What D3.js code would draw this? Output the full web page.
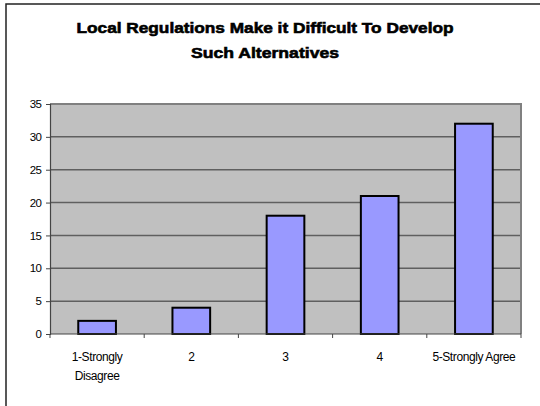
<!DOCTYPE html>
<html>
<head>
<meta charset="utf-8">
<script src="https://cdn.jsdelivr.net/npm/d3@7/dist/d3.min.js"></script>
<style>
  html, body { margin: 0; padding: 0; background: #fff; }
  svg { display: block; font-family: "Liberation Sans", Arial, sans-serif; }
</style>
</head>
<body>
<svg id="chart" width="540" height="406"></svg>
<script>
// Survey responses
const categories = ["1-Strongly Disagree", "2", "3", "4", "5-Strongly Agree"];
const categoryLines = [["1-Strongly", "Disagree"], ["2"], ["3"], ["4"], ["5-Strongly Agree"]];
const values = [2, 4, 18, 21, 32];
const yTicks = [0, 5, 10, 15, 20, 25, 30, 35];
const titleLines = ["Local Regulations Make it Difficult To Develop", "Such Alternatives"];
const titleWidths = [377, 148];

const svg = d3.select("#chart");
const W = 540, H = 406;
const plot = { left: 50, top: 104, right: 521, bottom: 334 };

// outer chart frame (extends past the visible edge on the right and bottom)
svg.append("rect")
  .attr("x", 6).attr("y", 4)
  .attr("width", W + 20).attr("height", H + 20)
  .attr("fill", "#fff")
  .attr("stroke", "#222").attr("stroke-width", 1.5);

// title, heavy and tightly set
svg.append("g").selectAll("text").data(titleLines).join("text")
  .attr("x", 265)
  .attr("y", (d, i) => 33 + i * 25)
  .attr("text-anchor", "middle")
  .attr("font-size", 15)
  .attr("font-weight", "900")
  .attr("textLength", (d, i) => titleWidths[i])
  .attr("lengthAdjust", "spacingAndGlyphs")
  .attr("fill", "#000")
  .attr("stroke", "#000").attr("stroke-width", 0.6)
  .text(d => d);

const x = d3.scaleBand().domain(categories).range([plot.left, plot.right]).paddingInner(0.6).paddingOuter(0.3);
const xb = d3.scaleBand().domain(categories).range([plot.left, plot.right]);
const y = d3.scaleLinear().domain([0, 35]).range([plot.bottom, plot.top]);

// plot background
svg.append("rect")
  .attr("x", plot.left).attr("y", plot.top)
  .attr("width", plot.right - plot.left).attr("height", plot.bottom - plot.top)
  .attr("fill", "#c0c0c0");

// gridlines
svg.append("g").selectAll("line").data(yTicks.filter(t => t > 0 && t < 35)).join("line")
  .attr("x1", plot.left).attr("x2", plot.right)
  .attr("y1", d => y(d)).attr("y2", d => y(d))
  .attr("stroke", "#5f5f5f").attr("stroke-width", 1.5);

// plot border (top and right)
svg.append("path")
  .attr("d", `M${plot.left},${plot.top}H${plot.right}V${plot.bottom}`)
  .attr("fill", "none").attr("stroke", "#808080").attr("stroke-width", 2);

// bars
svg.append("g").selectAll("rect").data(values).join("rect")
  .attr("x", (d, i) => x(categories[i]))
  .attr("y", d => y(d))
  .attr("width", x.bandwidth())
  .attr("height", d => y(0) - y(d))
  .attr("fill", "#9999ff")
  .attr("stroke", "#000").attr("stroke-width", 2);

// y axis
const yAxis = d3.axisLeft(y).tickValues(yTicks).tickSize(4).tickPadding(5);
const gy = svg.append("g").attr("transform", `translate(${plot.left},0)`).call(yAxis);
gy.select(".domain").attr("stroke", "#444").attr("stroke-width", 1.2);
gy.selectAll(".tick line").attr("stroke", "#444");
gy.selectAll(".tick text").attr("font-size", 11.5).attr("font-family", "Liberation Sans, Arial, sans-serif")
  .attr("letter-spacing", -0.8).attr("fill", "#000");

// x axis with ticks at category boundaries
const gx = svg.append("g").attr("transform", `translate(0,${plot.bottom})`);
gx.append("line").attr("x1", plot.left).attr("x2", plot.right)
  .attr("stroke", "#444").attr("stroke-width", 1.2);
const bounds = categories.map(c => xb(c)).concat([plot.right]);
gx.selectAll("line.tk").data(bounds).join("line").attr("class", "tk")
  .attr("x1", d => d).attr("x2", d => d).attr("y1", 0).attr("y2", 4)
  .attr("stroke", "#444");
const lbl = gx.selectAll("text").data(categoryLines).join("text")
  .attr("text-anchor", "middle")
  .attr("font-size", 12)
  .attr("letter-spacing", -0.4)
  .attr("fill", "#000");
lbl.each(function(lines, i) {
  const cx = xb(categories[i]) + xb.bandwidth() / 2;
  d3.select(this).selectAll("tspan").data(lines).join("tspan")
    .attr("x", cx)
    .attr("y", (d, j) => 27 + j * 19)
    .text(d => d);
});
</script>
</body>
</html>
